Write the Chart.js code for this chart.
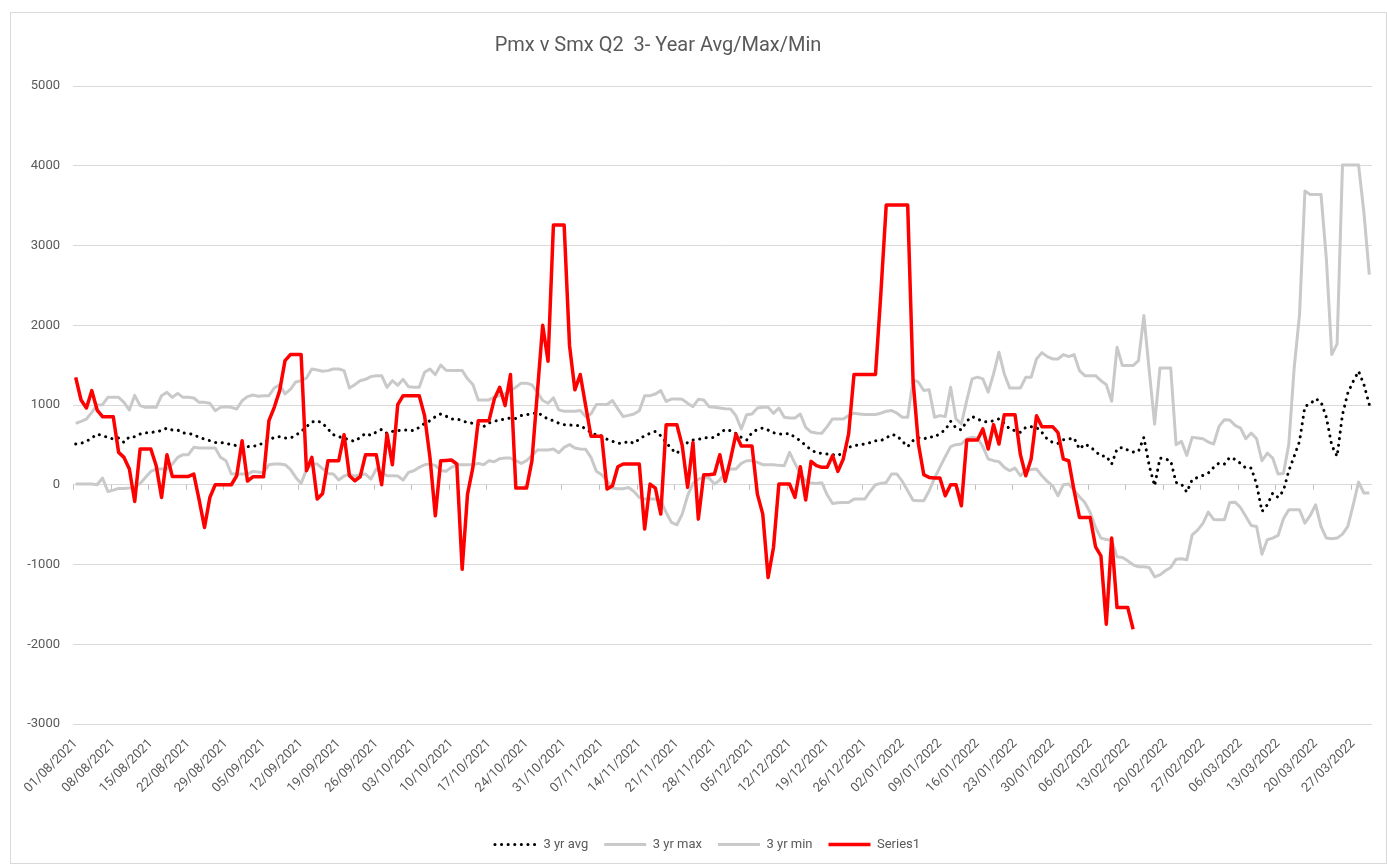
<!DOCTYPE html>
<html>
<head>
<meta charset="utf-8">
<script src="https://cdn.jsdelivr.net/npm/chart.js@4.4.0/dist/chart.umd.min.js"></script>
<style>
  body { margin: 0; background: #fff; }
  #frame { position: absolute; left: 10px; top: 12px; width: 1377px; height: 852px; border: 1px solid #d9d9d9; box-sizing: border-box; }
  #title { position: absolute; left: 408px; width: 500px; top: 32px; text-align: center; font: 20px Roboto, sans-serif; color: #595959; white-space: pre; }
  #chart { position: absolute; left: 0; top: 0; }
</style>
</head>
<body>
<div id="frame"><canvas id="chart" width="1375" height="850"></canvas></div>
<div id="title">Pmx v Smx Q2  3- Year Avg/Max/Min</div>
<script>
// daily categories, 01/08/2021 .. 30/03/2022
const startDay = Date.UTC(2021, 7, 1);
const dayCount = 242;
const dates = [];
for (let i = 0; i < dayCount; i++) {
    const d = new Date(startDay + i * 86400000);
    const dd = String(d.getUTCDate()).padStart(2, '0');
    const mm = String(d.getUTCMonth() + 1).padStart(2, '0');
    dates.push(dd + '/' + mm + '/' + d.getUTCFullYear());
}

const yTicks = [5000, 4000, 3000, 2000, 1000, 0, -1000, -2000, -3000];

const avg3yr = [
    510,519,544,586,636,615,594,573,586,531,
    602,602,636,653,653,669,678,711,686,686,
    649,644,628,594,573,552,531,531,519,502,
    490,481,477,485,490,531,561,594,602,586,
    586,619,669,728,787,803,770,699,628,602,
    586,561,544,594,644,619,661,694,644,669,
    678,686,686,678,720,770,803,853,887,860,
    825,825,804,779,771,754,729,775,796,813,
    825,838,830,867,880,888,905,867,821,804,
    771,754,750,742,742,700,658,624,612,570,
    545,520,520,545,519,573,615,644,669,615,
    531,448,393,469,531,561,569,586,594,594,
    644,694,678,644,594,561,653,694,711,686,
    653,636,636,644,594,552,490,440,400,394,
    385,377,365,406,469,490,499,511,528,553,
    553,587,629,616,545,478,553,587,574,603,
    595,645,687,796,712,687,796,855,825,796,
    784,804,826,770,699,678,657,720,728,720,
    657,573,531,519,565,573,586,448,510,477,
    418,360,360,259,448,469,435,410,418,594,
    238,-13,335,322,301,29,8,-92,63,92,
    117,146,218,272,259,343,318,268,209,209,
    8,-335,-251,-105,-159,-75,176,356,544,983,
    1013,1079,1038,845,494,356,879,1151,1297,1423,1255,1004
];

const max3yr = [
    770,795,824,908,1000,1004,1096,1096,1096,1033,
    937,1121,992,971,971,971,1117,1159,1096,1146,
    1096,1096,1088,1033,1033,1021,929,971,979,971,
    950,1054,1105,1125,1110,1117,1117,1213,1255,1138,
    1197,1289,1305,1339,1452,1439,1423,1431,1452,1452,
    1431,1213,1255,1305,1322,1356,1368,1368,1222,1305,
    1247,1322,1230,1222,1222,1410,1452,1381,1500,1436,
    1433,1433,1433,1328,1257,1064,1064,1064,1098,1119,
    1140,1182,1223,1274,1274,1253,1161,1056,1022,1089,
    939,922,922,922,930,855,888,1006,1006,1006,
    1056,951,855,870,887,929,1117,1117,1138,1180,
    1046,1075,1075,1071,1021,979,1071,1063,979,971,
    962,954,950,866,699,879,887,962,971,971,
    895,962,845,837,837,887,720,661,650,645,
    729,825,825,825,867,897,888,880,880,880,
    897,922,930,897,846,846,1316,1286,1182,1190,
    846,867,855,1223,825,763,1056,1328,1349,1328,
    1161,1391,1662,1389,1213,1213,1213,1347,1347,1577,
    1657,1607,1577,1577,1632,1607,1632,1431,1368,1368,
    1368,1305,1255,1046,1724,1494,1494,1494,1556,2121,
    1431,761,1464,1464,1464,502,544,368,594,586,
    577,536,510,732,816,812,745,711,577,649,
    577,301,397,335,134,142,506,1464,2134,3682,
    3640,3640,3640,2829,1632,1766,4008,4008,4008,4008,3410,2636
];

const min3yr = [
    8,8,8,8,0,84,-84,-67,-46,-46,
    -42,-33,17,92,167,197,197,197,259,343,
    377,377,469,460,460,460,460,343,301,134,
    134,134,134,167,160,151,251,259,259,251,
    192,92,17,192,259,259,201,142,134,59,
    109,134,109,126,134,71,197,155,113,113,
    109,59,155,176,218,251,259,243,180,170,
    218,251,251,251,251,268,251,302,289,327,
    335,335,302,268,302,365,436,436,436,448,
    402,469,503,461,448,444,344,168,126,50,
    -42,-50,-50,-34,-84,-159,-180,-180,-180,-201,
    -347,-473,-502,-368,-138,17,71,92,84,8,
    59,155,197,197,268,301,301,280,251,251,
    251,243,238,406,268,134,50,21,17,25,
    -126,-235,-226,-222,-222,-180,-180,-180,-84,0,
    17,29,134,134,42,-75,-193,-201,-201,-75,
    84,218,352,478,503,511,574,595,587,478,
    323,302,290,218,176,209,113,176,192,197,
    113,42,-13,-138,0,8,-67,-151,-222,-347,
    -536,-669,-686,-695,-904,-912,-954,-1004,-1029,-1029,
    -1038,-1155,-1130,-1079,-1038,-933,-929,-941,-628,-569,
    -485,-343,-435,-439,-439,-222,-218,-285,-397,-510,
    -523,-870,-690,-669,-636,-427,-314,-314,-314,-481,
    -385,-251,-523,-669,-678,-669,-619,-523,-251,33,-105,-105
];

const series1 = [
    1347,1063,962,1180,937,854,854,854,406,343,
    197,-209,448,448,448,238,-159,377,105,105,
    105,105,134,-190,-536,-159,0,0,0,0,
    113,552,46,100,100,100,803,971,1180,1556,
    1632,1632,1632,176,343,-180,-109,301,301,301,
    628,113,50,100,377,377,377,0,636,251,
    1004,1117,1117,1117,1117,866,343,-389,301,305,
    310,260,-1060,-117,218,804,804,804,1077,1223,
    993,1383,-42,-42,-42,302,1150,1999,1550,3256,
    3256,3256,1747,1190,1383,993,608,608,608,-54,
    -13,226,260,259,259,259,-556,8,-42,-368,
    753,753,753,490,-33,531,-431,126,126,134,
    377,42,322,636,485,485,485,-117,-368,-1163,
    -787,8,8,8,-159,226,-192,293,240,218,
    218,365,168,323,637,1383,1383,1383,1383,1383,
    2397,3507,3507,3507,3507,3507,1307,511,126,92,
    84,84,-138,0,0,-264,561,561,561,700,
    448,754,510,879,879,879,377,113,322,866,
    728,728,728,653,322,301,-75,-410,-410,-410,
    -778,-891,-1749,-669,-1540,-1540,-1540,-1812
];

const textGrey = '#595959';
const gridGrey = '#d9d9d9';
const lineGrey = '#c9c9c9';

// small weekly tick marks on the zero line, like the Excel axis
const weekTicks = {
    id: 'weekTicks',
    afterLayout(chart) {
        // nudge the legend a little right, it sits off-centre in the original
        chart.legend.left += 16;
        chart.legend.right += 16;
    },
    beforeDatasetsDraw(chart) {
        const x = chart.scales.x;
        const y0 = chart.scales.y.getPixelForValue(0);
        const half = (x.getPixelForValue(1) - x.getPixelForValue(0)) / 2;
        const ctx = chart.ctx;
        ctx.save();
        ctx.strokeStyle = '#bfbfbf';
        ctx.lineWidth = 1;
        ctx.beginPath();
        for (let i = 0; i <= dates.length; i += 7) {
            const px = Math.round(x.getPixelForValue(i) - half) + 0.5;
            ctx.moveTo(px, y0);
            ctx.lineTo(px, y0 + 5);
        }
        ctx.stroke();
        ctx.restore();
    }
};

// legend lines should copy the dataset's own dash and width
function legendLabels(chart) {
    const items = Chart.defaults.plugins.legend.labels.generateLabels(chart);
    items.forEach(item => {
        const ds = chart.data.datasets[item.datasetIndex];
        item.lineDash = ds.borderDash || [];
        item.lineWidth = ds.borderWidth;
        item.lineCap = ds.borderCapStyle || 'butt';
        item.strokeStyle = ds.borderColor;
    });
    return items;
}

const ctx = document.getElementById('chart').getContext('2d');
const chart = new Chart(ctx, {
    type: 'line',
    data: {
        labels: dates,
        datasets: [{
            label: '3 yr avg',
            data: avg3yr,
            borderColor: '#000000',
            backgroundColor: '#000000',
            borderWidth: 3,
            borderDash: [0.1, 6.5],
            borderCapStyle: 'round',
            order: 1
        }, {
            label: '3 yr max',
            data: max3yr,
            borderColor: lineGrey,
            backgroundColor: lineGrey,
            borderWidth: 3,
            order: 2
        }, {
            label: '3 yr min',
            data: min3yr,
            borderColor: lineGrey,
            backgroundColor: lineGrey,
            borderWidth: 3,
            order: 3
        }, {
            label: 'Series1',
            data: series1,
            borderColor: '#ff0000',
            backgroundColor: '#ff0000',
            borderWidth: 3.5,
            order: 0
        }]
    },
    options: {
        responsive: false,
        animation: false,
        elements: {
            point: { radius: 0, hoverRadius: 0 },
            line: { tension: 0, borderJoinStyle: 'round' }
        },
        layout: {
            padding: { top: 73, right: 14, bottom: 2, left: 0 }
        },
        plugins: {
            title: { display: false },
            tooltip: { enabled: false },
            legend: {
                position: 'bottom',
                labels: {
                    color: textGrey,
                    font: { family: 'Roboto', size: 13 },
                    usePointStyle: true,
                    pointStyle: 'line',
                    pointStyleWidth: 42,
                    padding: 16,
                    sort: (a, b) => a.datasetIndex - b.datasetIndex,
                    generateLabels: legendLabels
                }
            }
        },
        scales: {
            x: {
                offset: true,
                grid: { display: false },
                border: { display: false },
                afterFit: s => { s.height = 98; },
                ticks: {
                    autoSkip: false,
                    minRotation: 45,
                    maxRotation: 45,
                    color: textGrey,
                    font: { family: 'Roboto', size: 13 },
                    padding: 4,
                    callback: function (val, index) {
                        return index % 7 === 0 ? this.getLabelForValue(val) : null;
                    }
                }
            },
            y: {
                min: yTicks[yTicks.length - 1],
                max: yTicks[0],
                afterFit: s => { s.width = 62; },
                border: { display: false },
                grid: { color: gridGrey, lineWidth: 1, drawTicks: false },
                ticks: {
                    stepSize: 1000,
                    color: textGrey,
                    padding: 13,
                    font: { family: 'Roboto', size: 13 },
                    callback: v => String(v)
                }
            }
        }
    },
    plugins: [weekTicks]
});
</script>
</body>
</html>
